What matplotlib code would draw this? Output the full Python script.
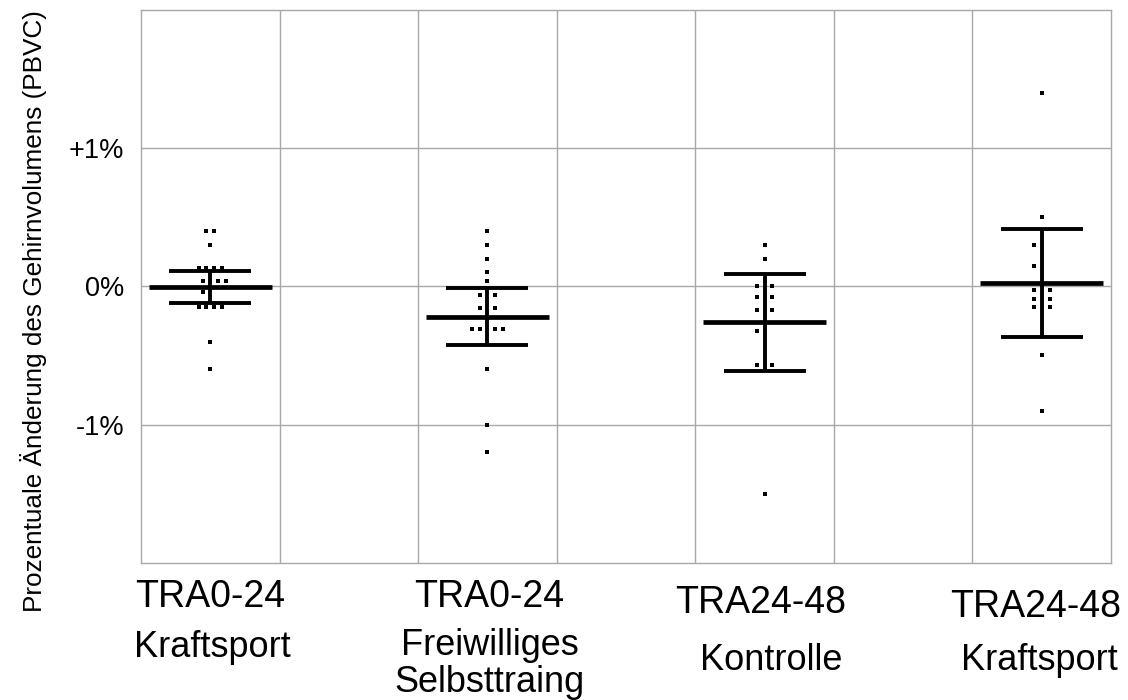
import matplotlib
matplotlib.use("Agg")
import matplotlib.pyplot as plt
import matplotlib.transforms as mtransforms

plt.rcParams['font.family'] = ['Liberation Sans', 'DejaVu Sans']

# values (percent change)
g1 = [0.4, 0.4, 0.3, 0.13, 0.13, 0.13, 0.13, 0.04, 0.04, 0.04, -0.04,
      -0.15, -0.15, -0.15, -0.15, -0.4, -0.6]
g2 = [0.4, 0.3, 0.2, 0.1, 0.04, -0.06, -0.06, -0.16, -0.16,
      -0.31, -0.31, -0.31, -0.31, -0.6, -1.0, -1.2]
g3 = [0.3, 0.2, 0.0, 0.0, -0.08, -0.08, -0.17, -0.17, -0.32, -0.57, -0.57, -1.5]
g4 = [1.4, 0.5, 0.3, 0.15, -0.03, -0.03, -0.09, -0.09, -0.15, -0.15, -0.5, -0.9]
groups = [g1, g2, g3, g4]
means = [-0.005, -0.22, -0.26, 0.025]
errs = [0.115, 0.205, 0.35, 0.39]
line1 = ["TRA0-24", "TRA0-24", "TRA24-48", "TRA24-48"]
line2 = ["Kraftsport", "Freiwilliges", "Kontrolle", "Kraftsport"]
line3 = ["", "Selbsttraing", "", ""]
yticks = [-1, 0, 1]
yticklabels = ["-1%", "0%", "+1%"]

xpos = [0.5, 2.5, 4.5, 6.5]
step = 0.056


def spread(vals, m, e):
    # rows of equal values; inside the error bar the centre column is kept free
    out = []
    rows = {}
    for v in vals:
        rows.setdefault(round(v, 2), []).append(v)
    slots = [-1, 1, 2, -2, 3, -3]
    for v, row in rows.items():
        n = len(row)
        if m - e <= v <= m + e:
            offs = [slots[i] * step for i in range(n)]
        else:
            offs = [(i - (n - 1) / 2) * step for i in range(n)]
        for o in offs:
            out.append((o, v))
    return out


fig = plt.figure(figsize=(11.28, 7.0), dpi=100)
ax = fig.add_axes([0.125, 0.196, 0.86, 0.79])

for i in range(len(groups)):
    pts = spread(groups[i], means[i], errs[i])
    ax.plot([xpos[i] + p[0] for p in pts], [p[1] for p in pts], 's',
            color='black', markersize=3.4, markeredgewidth=0, zorder=4)
    ax.errorbar(xpos[i], means[i], yerr=errs[i], fmt='none', ecolor='black',
                elinewidth=2.8, capsize=29.5, capthick=2.8, zorder=3)
    ax.hlines(means[i], xpos[i] - 0.445, xpos[i] + 0.445, color='black',
              linewidth=3.4, zorder=3)

ax.set_xlim(0, 7)
ax.set_ylim(-2, 2)
ax.set_xticks(range(1, 7))
ax.set_xticklabels([])
ax.set_yticks(yticks)
ax.set_yticklabels(yticklabels, fontsize=19.5)
ax.tick_params(length=0, pad=12)
ax.grid(True, color='#a8a8a8', linewidth=1.0)
for s in ax.spines.values():
    s.set_color('#a8a8a8')
    s.set_linewidth(1.0)

ax.set_ylabel("Prozentuale Änderung des Gehirnvolumens (PBVC)", fontsize=18.8)
ax.yaxis.set_label_coords(-0.097, 0.455)

# category labels below the plot, baselines in pixels from the top
trans = mtransforms.blended_transform_factory(ax.transData, fig.transFigure)
dx1 = [0.0, 0.01, -0.03, -0.043]
dx2 = [0.015, 0.015, 0.045, -0.02]
b1 = [607, 607, 613, 617]
b2 = [657, 655, 670, 670]
b3 = [0, 692, 0, 0]
for i in range(len(xpos)):
    ax.text(xpos[i] + dx1[i], 1 - b1[i] / 700, line1[i], transform=trans,
            ha='center', va='baseline', fontsize=27)
    ax.text(xpos[i] + dx2[i], 1 - b2[i] / 700, line2[i], transform=trans,
            ha='center', va='baseline', fontsize=26)
    if line3[i]:
        ax.text(xpos[i] + dx2[i], 1 - b3[i] / 700, line3[i], transform=trans,
                ha='center', va='baseline', fontsize=26)

fig.savefig("out.png", dpi=100)
